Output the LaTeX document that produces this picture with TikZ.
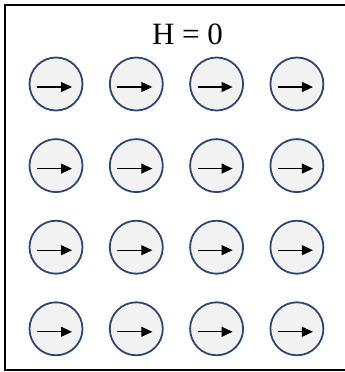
\documentclass[tikz,border=0pt]{standalone}
\usepackage{fontspec}
\setmainfont{Liberation Serif}
\usetikzlibrary{arrows.meta}
\definecolor{spinfill}{HTML}{F2F2F2}
\definecolor{spinedge}{HTML}{2E4670}
\begin{document}
\begin{tikzpicture}[x=1pt,y=-1pt,
  spin/.style={circle,draw=spinedge,fill=spinfill,line width=1.8pt,minimum size=53pt,inner sep=0pt},
  moment/.style={line width=1.1pt,-{Triangle[length=11pt,width=10pt]}},
  frame/.style={draw=black,line width=2pt}]
\useasboundingbox (0,0) rectangle (345,372);
\clip (0,0) rectangle (345,372);
\draw[frame] (5,5) rectangle (352,370);
\node[font=\fontsize{31}{36}\selectfont] (title) at (187.5,34) {H = 0};
\foreach \i in {0,1,2,3}{
  \foreach \j in {0,1,2,3}{
    \node[spin] (s\i\j) at ({56+80.3*\i},{84+81.6*\j}) {};
    \coordinate (a\i\j) at ([shift={(-19,3)}]s\i\j.center);
    \coordinate (b\i\j) at ([shift={(16,3)}]s\i\j.center);
    \draw[moment] (a\i\j) -- (b\i\j);
  }
}
\end{tikzpicture}
\end{document}
